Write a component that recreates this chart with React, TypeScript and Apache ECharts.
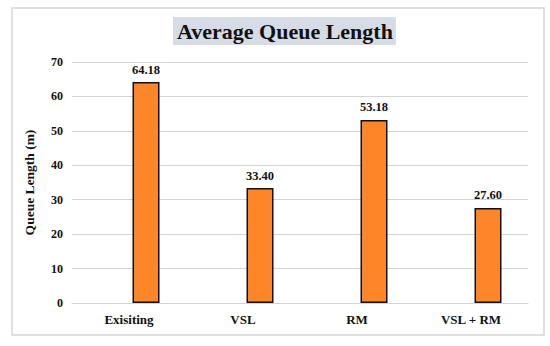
import React, { useEffect, useRef } from "react";
import * as echarts from "echarts";

const categories = ["Exisiting", "VSL", "RM", "VSL + RM"];
const queueLength = [64.18, 33.4, 53.18, 27.6];
const emptySeries = [null, null, null, null];

const FONT = "'Liberation Serif', 'Times New Roman', serif";

export default function App() {
  const ref = useRef<HTMLDivElement>(null);
  useEffect(() => {
    if (!ref.current) return;
    const chart = echarts.init(ref.current, null, { renderer: "svg" });
    chart.setOption({
      animation: false,
      backgroundColor: "#ffffff",
      graphic: [
        {
          type: "rect",
          z: -10,
          shape: { x: 12, y: 8, width: 532, height: 327 },
          style: { fill: "#ffffff", stroke: "#d6d6d6", lineWidth: 1.5 },
        },
      ],
      title: {
        text: "Average Queue Length",
        left: 173,
        top: 17,
        backgroundColor: "#D6DCE5",
        padding: [3, 3, 3, 4],
        textStyle: {
          fontFamily: FONT,
          fontWeight: "bold",
          fontSize: 22,
          color: "#111",
        },
      },
      grid: { left: 72, right: 22, top: 62, bottom: 43 },
      xAxis: {
        type: "category",
        data: categories,
        axisLine: { show: true, lineStyle: { color: "#d4d4d4", width: 1 } },
        axisTick: { show: false },
        axisLabel: {
          margin: 10,
          fontFamily: FONT,
          fontWeight: "bold",
          fontSize: 13,
          color: "#111",
        },
      },
      yAxis: {
        type: "value",
        min: 0,
        max: 70,
        interval: 10,
        name: "Queue Length (m)",
        nameLocation: "middle",
        nameRotate: 90,
        nameGap: 36,
        nameTextStyle: {
          fontFamily: FONT,
          fontWeight: "bold",
          fontSize: 13.5,
          color: "#111",
        },
        axisLine: { show: false },
        axisTick: { show: false },
        splitLine: { lineStyle: { color: "#d4d4d4", width: 1 } },
        axisLabel: {
          margin: 9,
          fontFamily: FONT,
          fontWeight: "bold",
          fontSize: 12,
          color: "#111",
        },
      },
      series: [
        {
          type: "bar",
          data: emptySeries,
          barWidth: 27,
          barGap: "26%",
        },
        {
          type: "bar",
          data: queueLength,
          barWidth: 27,
          barGap: "26%",
          itemStyle: { color: "#FD8628", borderColor: "#111", borderWidth: 1.5 },
          label: {
            show: true,
            position: "top",
            distance: 6,
            fontFamily: FONT,
            fontWeight: "bold",
            fontSize: 12.5,
            color: "#111",
            formatter: (p: any) => Number(p.value).toFixed(2),
          },
        },
      ],
    });
    return () => chart.dispose();
  }, []);
  return (
    <div
      ref={ref}
      style={{ position: "fixed", left: 0, top: 0, width: 550, height: 346 }}
    />
  );
}
